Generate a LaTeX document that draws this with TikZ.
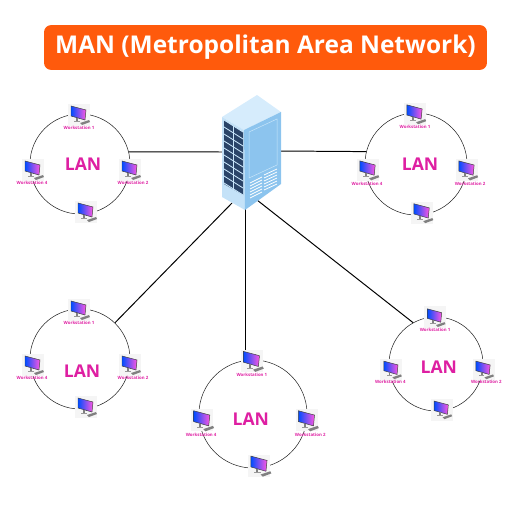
\documentclass[tikz,border=0pt]{standalone}
\usepackage{fontspec}
\setmainfont{Open Sans}
\usepackage{xcolor}
\usetikzlibrary{positioning, calc}

\definecolor{titleorange}{HTML}{FF5A0C}
\definecolor{lanpink}{HTML}{DE1FA2}
\definecolor{rackblue}{HTML}{2A4468}
\definecolor{srvtop}{HTML}{D6ECFC}
\definecolor{srvleft}{HTML}{C4E2F8}
\definecolor{srvright}{HTML}{8CC4EE}
\definecolor{srvline}{HTML}{C9E6FA}

\tikzset{
  ringline/.style={draw=black!90, line width=0.35pt, circle, minimum size=#1, inner sep=0pt},
  iconbox/.style={fill=black!4, minimum size=0.55cm, inner sep=0pt},
  wslabel/.style={text=lanpink, font=\fontsize{3.1}{3.5}\selectfont\bfseries, inner sep=0pt},
  lanlabel/.style={text=lanpink, font=\fontsize{12.5}{13}\selectfont\bfseries, inner sep=0pt},
  link/.style={draw=black, line width=0.7pt},
  workstation/.pic={
    \shade[left color=blue!70!cyan, right color=magenta!55!pink, draw=black!75, line width=0.35pt]
      (-8,-9) -- (7,-5) -- (6,5) -- (-8,1) -- cycle;
    \fill[black!50] (-3,3) -- (-1,3) -- (-1,6) -- (-3,6) -- cycle;
    \fill[black!40] (-5,6) -- (1,6) -- (1,7) -- (-5,7) -- cycle;
    \fill[black!50] (1,8) -- (10,5) -- (11,7) -- (3,10) -- cycle;
  }
}

\newcommand{\lanring}[7]{% name, x, y, radius, factor, lan x, lan y
  \node[ringline=#4*0.05cm] (#1ring) at (#2,#3) {};
  \begin{scope}[shift={(#2,#3)}, x=#5*0.025cm, y=-#5*0.025cm]
    \node[iconbox] (#1top) at (-1,-49) {};
    \node[iconbox] (#1right) at (50,6) {};
    \node[iconbox] (#1left) at (-47,6) {};
    \node[iconbox] (#1bottom) at (6,48) {};
    \pic at (#1top) {workstation};
    \pic at (#1right) {workstation};
    \pic at (#1left) {workstation};
    \pic at (#1bottom) {workstation};
    \node[wslabel] (#1wa) at (-1,-36) {Workstation 1};
    \node[wslabel] (#1wb) at (53,19) {Workstation 2};
    \node[wslabel] (#1wd) at (-48,19) {Workstation 4};
    \node[lanlabel] (#1lan) at (#6,#7) {LAN};
  \end{scope}
}

\begin{document}
\begin{tikzpicture}[x=0.025cm, y=-0.025cm]

\useasboundingbox (0,0) rectangle (512,512);

\node[fill=titleorange, rounded corners=5pt, minimum width=11.07cm, minimum height=1.12cm, inner sep=0pt,
  text=white, font=\fontsize{17.4}{19}\selectfont\bfseries] (title) at (265.5,47.5) {MAN (Metropolitan Area Network)};

% rings
\lanring{ringA}{80}{164}{50}{1}{3}{0}
\lanring{ringB}{416}{164}{51}{1.02}{4}{0}
\lanring{ringC}{80}{359}{50}{1}{2}{12}
\lanring{ringD}{253}{414}{54}{1.08}{-2}{5}
\lanring{ringE}{436}{364}{47}{0.95}{3}{3}

% server anchor points
\coordinate (srvW) at (224,152);
\coordinate (srvE) at (279,151);
\coordinate (srvSW) at (232,203);
\coordinate (srvS) at (245,208);
\coordinate (srvSE) at (257,200);

% links
\draw[link] (srvW) -- (ringAring.14);
\draw[link] (srvE) -- (ringBring.166);
\draw[link] (srvSW) -- (ringCring.46);
\draw[link] (srvS) -- (srvS |- ringDtop.north);
\draw[link] (srvSE) -- (ringEring.119);

% server
\fill[srvtop] (222,117) -- (257,95) -- (281,112) -- (244,130) -- cycle;
\fill[srvleft] (222,117) -- (244,130) -- (245,210) -- (222,197) -- cycle;
\fill[srvright] (244,130) -- (281,112) -- (281,184) -- (245,210) -- cycle;
\fill[rackblue] (224,120) -- (243,132) -- (243,195) -- (224,184) -- cycle;
\foreach \r in {0,...,9} {
  \draw[srvline, line width=0.6pt] (224,{120+7*\r}) -- (243,{132+7*\r});
}
\draw[srvline, line width=0.4pt] (233.5,126) -- (233.5,190);
\draw[srvline, line width=0.35pt] (249,132) -- (277,119) -- (277,165) -- (249,178) -- cycle;
\foreach \r in {0,...,5} {
  \draw[white, line width=0.55pt] (250,{183+3*\r}) -- (262,{177+3*\r});
  \draw[white, line width=0.55pt] (264,{175+3*\r}) -- (277,{169+3*\r});
}

\end{tikzpicture}
\end{document}
